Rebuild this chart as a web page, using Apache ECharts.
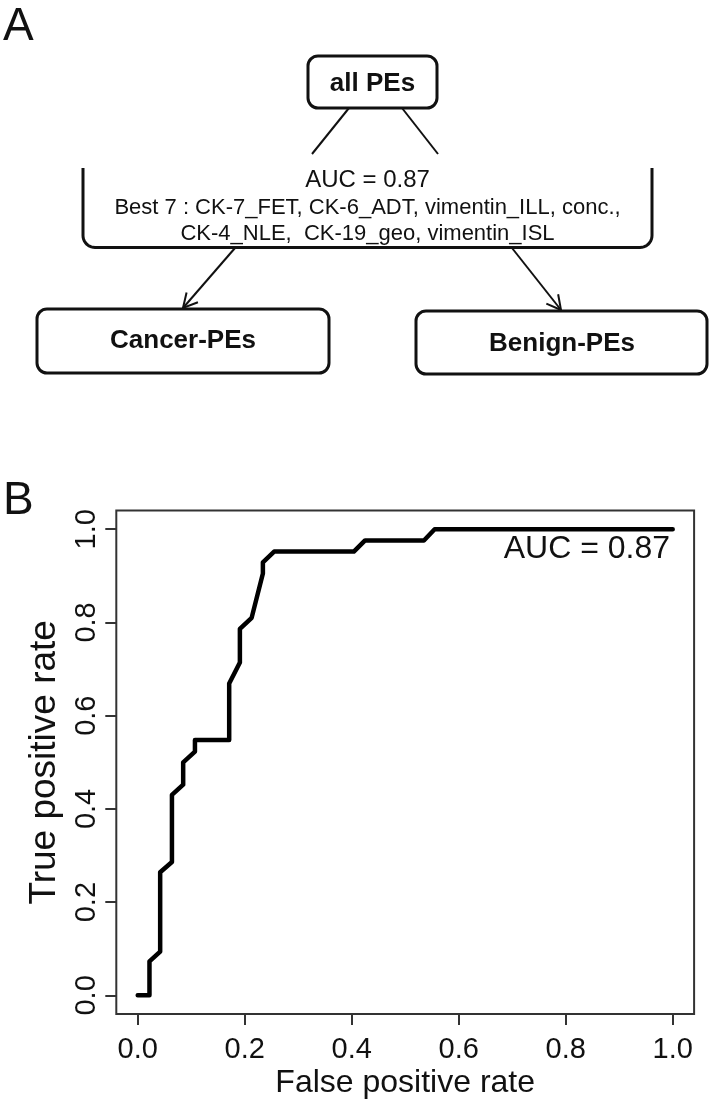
<!DOCTYPE html>
<html><head><meta charset="utf-8">
<script src="https://cdn.jsdelivr.net/npm/echarts@6/dist/echarts.min.js"></script>
<style>html,body{margin:0;padding:0;background:#fff}#c{width:713px;height:1100px}</style>
</head><body><div id="c"></div>
<script>
// ROC curve points
const fpr = [0, 0.022, 0.022, 0.042, 0.042, 0.064, 0.064, 0.085, 0.085, 0.107, 0.107, 0.171, 0.171, 0.191, 0.191, 0.213, 0.234, 0.234, 0.255, 0.404, 0.425, 0.535, 0.555, 1.0];
const tpr = [0, 0, 0.073, 0.094, 0.264, 0.286, 0.430, 0.452, 0.500, 0.523, 0.548, 0.548, 0.669, 0.714, 0.786, 0.810, 0.905, 0.929, 0.952, 0.952, 0.976, 0.976, 1.0, 1.0];
const tickValues = [0, 0.2, 0.4, 0.6, 0.8, 1.0];
const tickLabels = ['0.0', '0.2', '0.4', '0.6', '0.8', '1.0'];
const xTitle = 'False positive rate';
const yTitle = 'True positive rate';
const aucLabel = 'AUC = 0.87';
const bestLines = ['Best 7 : CK-7_FET, CK-6_ADT, vimentin_ILL, conc.,', 'CK-4_NLE,  CK-19_geo, vimentin_ISL'];
const nodeRoot = 'all PEs';
const nodeLeft = 'Cancer-PEs';
const nodeRight = 'Benign-PEs';

const FONT = "'Liberation Sans', Arial, sans-serif";
const INK = '#111';
const AX = '#333';
const chart = echarts.init(document.getElementById('c'), null, {renderer: 'canvas'});

const pad = 0.04;
const fmt = v => tickLabels[tickValues.findIndex(t => Math.abs(t - v) < 1e-9)] ?? '';

chart.setOption({
  animation: false,
  backgroundColor: '#fff',
  grid: {left: 116.3, top: 510.6, width: 577.8, height: 503.8, containLabel: false,
         show: true, borderColor: AX, borderWidth: 2, backgroundColor: 'transparent'},
  xAxis: {
    type: 'value', min: -pad, max: 1 + pad,
    axisLine: {show: false, onZero: false},
    splitLine: {show: false},
    axisTick: {show: true, length: 11, customValues: tickValues, lineStyle: {color: AX, width: 2}},
    axisLabel: {margin: 21, fontSize: 29, fontFamily: FONT, color: INK, customValues: tickValues, formatter: fmt},
    name: xTitle, nameLocation: 'middle', nameGap: 53,
    nameTextStyle: {fontSize: 32, fontFamily: FONT, color: INK}
  },
  yAxis: {
    type: 'value', min: -pad, max: 1 + pad,
    axisLine: {show: false, onZero: false},
    splitLine: {show: false},
    axisTick: {show: true, length: 11, customValues: tickValues, lineStyle: {color: AX, width: 2}},
    axisLabel: {margin: 15, rotate: 90, fontSize: 29, fontFamily: FONT, color: INK, customValues: tickValues, formatter: fmt},
    name: yTitle, nameLocation: 'middle', nameGap: 53,
    nameTextStyle: {fontSize: 37, fontFamily: FONT, color: INK}
  },
  series: [{
    type: 'line', showSymbol: false, symbol: 'none',
    data: fpr.map((x, i) => [x, tpr[i]]),
    lineStyle: {color: '#000', width: 4.5, join: 'round', cap: 'round'},
    z: 5
  }]
});

function arrow(x1, y1, x2, y2) {
  const dx = x2 - x1, dy = y2 - y1, L = Math.hypot(dx, dy);
  const ux = dx / L, uy = dy / L, h = 16, a = 28 * Math.PI / 180;
  const w1 = [x2 - h * (ux * Math.cos(a) - uy * Math.sin(a)), y2 - h * (uy * Math.cos(a) + ux * Math.sin(a))];
  const w2 = [x2 - h * (ux * Math.cos(a) + uy * Math.sin(a)), y2 - h * (uy * Math.cos(a) - ux * Math.sin(a))];
  return [
    {type: 'line', shape: {x1, y1, x2, y2}, style: {stroke: INK, lineWidth: 2}},
    {type: 'polyline', shape: {points: [w1, [x2, y2], w2]}, style: {stroke: INK, lineWidth: 2, fill: null}}
  ];
}
function box(x, y, w, h) {
  return {type: 'rect', shape: {x, y, width: w, height: h, r: 10}, style: {stroke: INK, lineWidth: 3, fill: null}};
}
function txt(s, x, y, size, bold) {
  return {type: 'text', x, y, style: {text: s, font: (bold ? 'bold ' : '') + size + 'px ' + FONT, fill: INK, align: 'center', verticalAlign: 'middle'}};
}
function bracket(xl, xr, yt, yb, r) {
  const pts = [[xl, yt], [xl, yb - r]];
  for (let k = 1; k < 10; k++) { const t = Math.PI - k * Math.PI / 20; pts.push([xl + r + r * Math.cos(t), yb - r + r * Math.sin(t)]); }
  pts.push([xl + r, yb], [xr - r, yb]);
  for (let k = 1; k < 10; k++) { const t = Math.PI / 2 - k * Math.PI / 20; pts.push([xr - r + r * Math.cos(t), yb - r + r * Math.sin(t)]); }
  pts.push([xr, yb - r], [xr, yt]);
  return {type: 'polyline', shape: {points: pts}, style: {stroke: INK, lineWidth: 3, fill: null, lineJoin: 'round'}};
}

chart.setOption({graphic: [
  {type: 'text', x: 3, y: 4, style: {text: 'A', font: '46px ' + FONT, fill: INK}},
  {type: 'text', x: 3, y: 478, style: {text: 'B', font: '46px ' + FONT, fill: INK}},
  box(308, 56, 129, 52),
  txt(nodeRoot, 372.5, 84, 26, true),
  {type: 'line', shape: {x1: 349, y1: 108, x2: 312, y2: 154}, style: {stroke: INK, lineWidth: 2}},
  {type: 'line', shape: {x1: 402, y1: 108, x2: 438, y2: 154}, style: {stroke: INK, lineWidth: 2}},
  bracket(83, 652, 168, 247.5, 12),
  txt(aucLabel, 367.5, 180, 24, false),
  txt(bestLines[0], 367.5, 207.5, 22, false),
  txt(bestLines[1], 367.5, 234, 22, false),
  ...arrow(235, 248, 183, 308),
  ...arrow(512, 248, 561, 310),
  box(37, 309, 292, 64),
  box(416, 311, 291, 63),
  txt(nodeLeft, 183, 341, 26, true),
  txt(nodeRight, 562, 344, 26, true),
  {type: 'text', x: 670, y: 549, style: {text: aucLabel, font: '32px ' + FONT, fill: INK, align: 'right', verticalAlign: 'middle'}}
]});
</script></body></html>
